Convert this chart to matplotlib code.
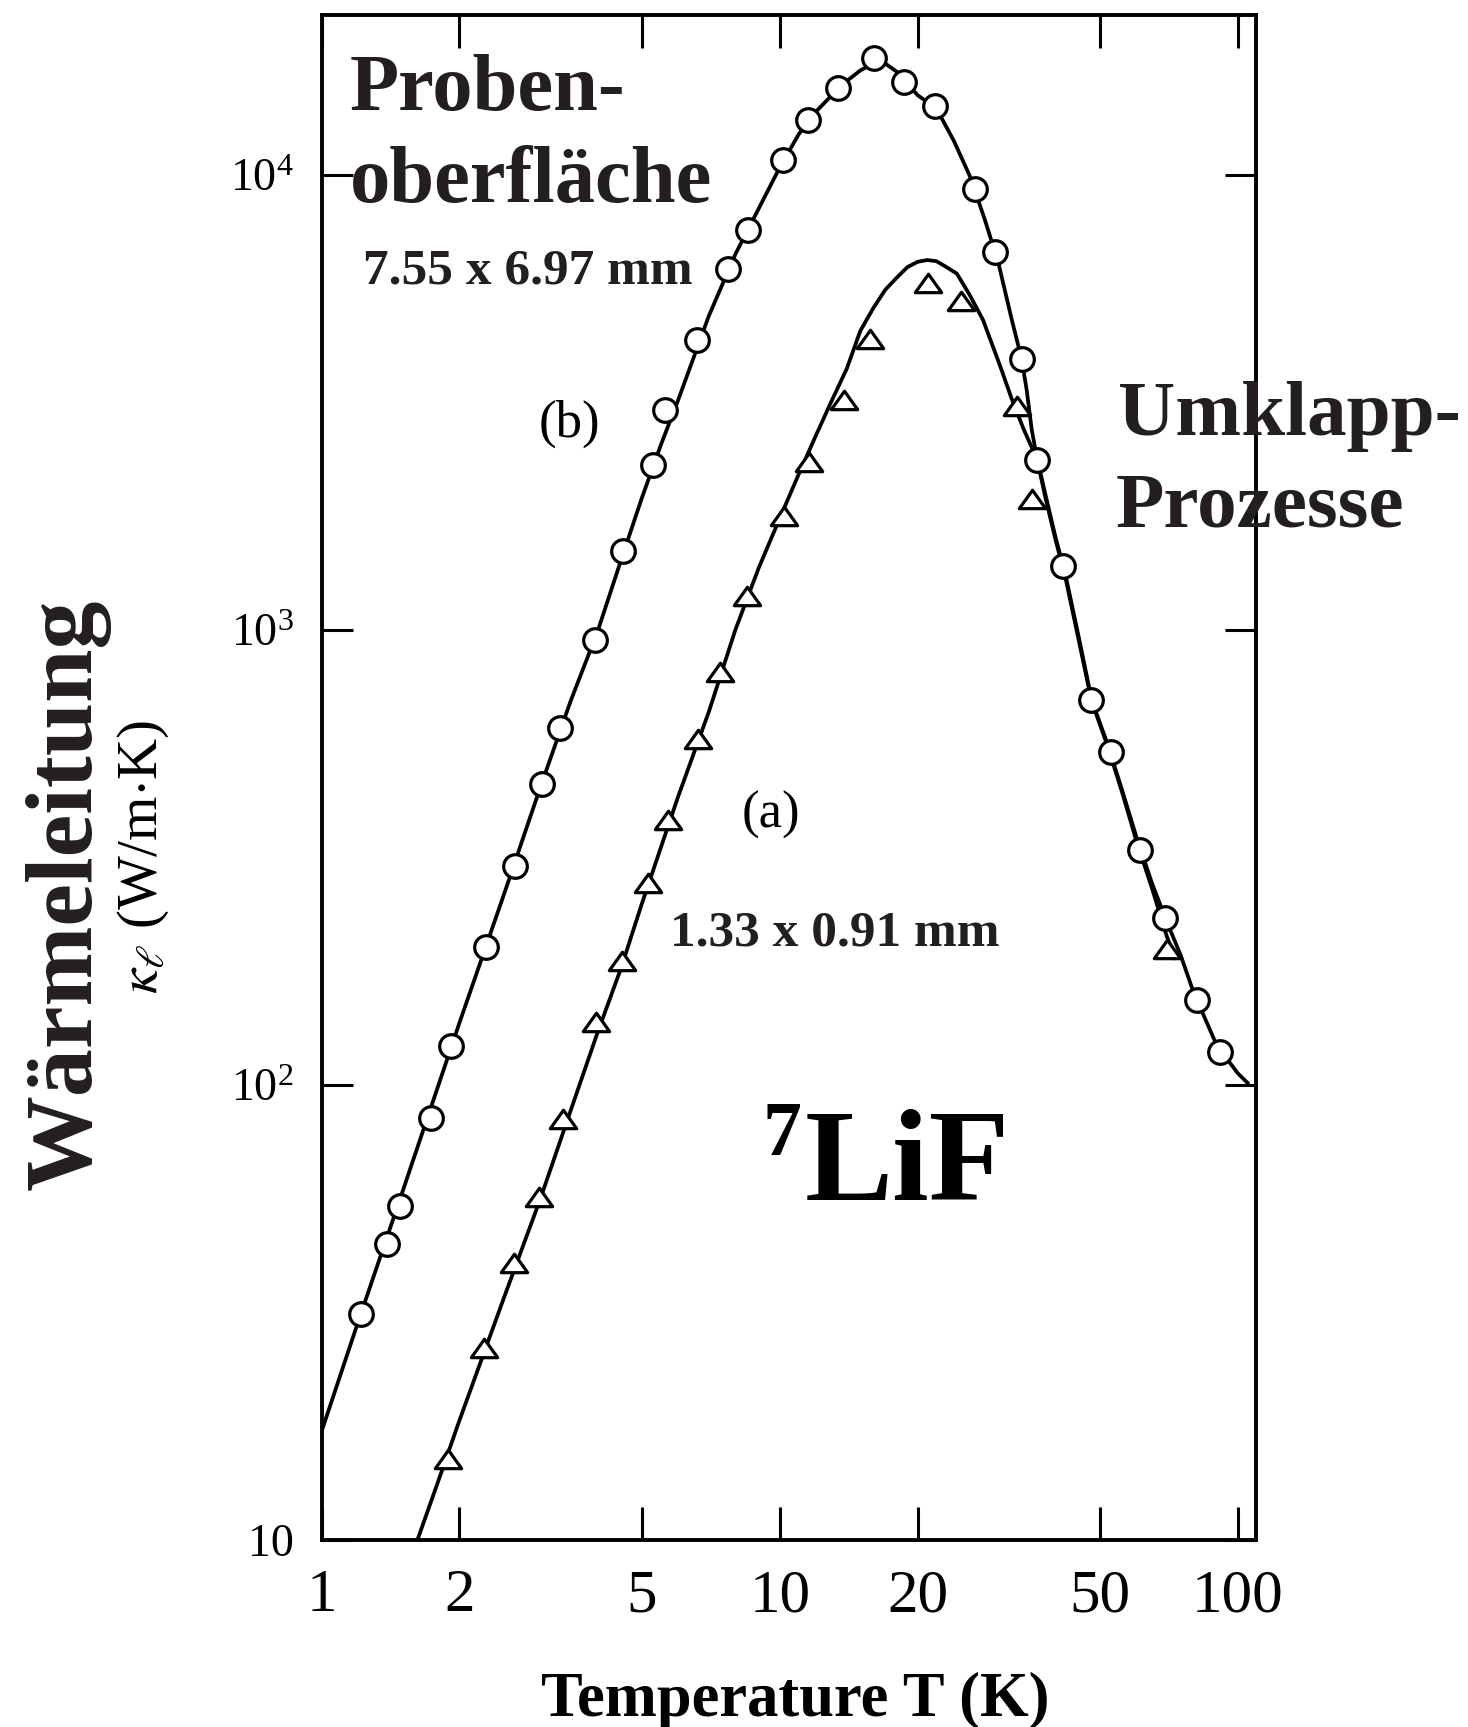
import matplotlib
matplotlib.use("Agg")
import matplotlib.pyplot as plt
from matplotlib.ticker import NullLocator
from matplotlib.path import Path

# ---------------- data ----------------
# sample (b): 7.55 x 6.97 mm, circles
circle_T = [1.22, 1.39, 1.48, 1.73, 1.92, 2.28, 2.65, 3.03, 3.31, 3.95, 4.56, 5.29,
            5.62, 6.60, 7.71, 8.52, 10.18, 11.54, 13.4, 16.06, 18.7, 21.8, 26.7,
            29.5, 33.75, 36.5, 41.6, 47.9, 52.9, 61.1, 69.3, 81.3, 91.4]
circle_K = [31.3, 44.6, 54.2, 84.5, 121.6, 201, 303, 458, 609, 951, 1493, 2307,
            3050, 4337, 6225, 7570, 10800, 13200, 15520, 18100, 16060, 14190, 9350,
            6790, 3936, 2366, 1384, 703, 538, 328, 233, 153.5, 118]

# sample (a): 1.33 x 0.91 mm, triangles
tri_T = [1.89, 2.26, 2.63, 2.98, 3.36, 3.97, 4.53, 5.15, 5.69, 6.64, 7.42, 8.47,
         10.2, 11.6, 13.8, 15.75, 21.1, 24.9, 32.9, 35.5, 70.0]
tri_K = [15.0, 26.2, 40.3, 56.3, 83.6, 137, 186, 277, 381, 573, 805, 1183,
         1775, 2333, 3190, 4340, 5780, 5270, 3097, 1932, 198]

# drawn curve through (b)
curve_b_T = [1.0, 1.2, 1.5, 2.0, 2.5, 3.0, 3.5, 4.0, 4.5, 5.0, 5.5, 6.0, 7.0, 8.0,
             9.0, 10.0, 11.0, 12.0, 13.0, 14.0, 15.0, 16.0, 17.0, 18.0, 19.0, 20.0,
             22.0, 24.0, 26.0, 28.0, 30.0, 32.0, 33.75, 34.6, 35.5, 36.5, 38.0, 40.0,
             42.0, 45.0, 48.0, 52.0, 56.0, 60.0, 65.0, 70.0, 75.0, 80.0, 90.0, 100.0, 105.0]
curve_b_K = [17.3, 30, 58, 137, 262, 450, 700, 990, 1420, 1950, 2550, 3200, 4900, 6700,
             8450, 10400, 12300, 13800, 15000, 16100, 17000, 17600, 17600, 16900, 15900, 15000,
             14000, 11900, 9960, 8020, 6430, 4880, 3936, 3373, 2754, 2366, 1990, 1600,
             1330, 960, 700, 560, 442, 352, 277, 228, 193, 160, 122, 106, 101]

# drawn curve through (a)
curve_a_T = [1.62, 1.8, 2.0, 2.5, 3.0, 3.5, 4.0, 4.5, 5.0, 6.0, 7.0, 8.0, 9.0, 10.0,
             11.0, 12.0, 13.0, 14.0, 15.0, 16.0, 17.0, 18.0, 19.0, 20.0, 21.0, 22.0,
             23.0, 24.35, 26.0, 27.8, 30.3, 32.0, 34.0, 36.5, 38.0, 40.0, 42.0, 45.0,
             48.0, 52.0, 56.0, 60.0, 65.0, 70.0, 73.0]
curve_a_K = [10, 13.5, 18.3, 34, 56, 88, 130, 180, 250, 430, 660, 1000, 1370, 1760,
             2200, 2680, 3200, 3750, 4550, 5100, 5600, 5950, 6280, 6450, 6510, 6470,
             6300, 6080, 5450, 4800, 3800, 3250, 2780, 2366, 1960, 1580, 1310, 945,
             695, 555, 437, 345, 270, 212, 190]

x_ticks = [1, 2, 5, 10, 20, 50, 100]
x_labels = ["1", "2", "5", "10", "20", "50", "100"]
y_ticks = [10, 100, 1000, 10000]
y_labels = ["10", r"$\mathregular{10^{2}}$", r"$\mathregular{10^{3}}$", r"$\mathregular{10^{4}}$"]

# ---------------- styling ----------------
plt.rcParams['font.family'] = ['Liberation Serif', 'DejaVu Serif']
plt.rcParams['mathtext.fontset'] = 'stix'

TXT = '#231f20'

fig = plt.figure(figsize=(14.68, 17.27), dpi=100)
ax = fig.add_axes([0.21907, 0.10851, 0.63618, 0.88256])
ax.set_xscale('log')
ax.set_yscale('log')
ax.set_xlim(1, 109.3)
ax.set_ylim(10, 22460)

ax.plot(curve_b_T, curve_b_K, color='black', lw=2.7, zorder=2)
ax.plot(curve_a_T, curve_a_K, color='black', lw=2.7, zorder=2)

ax.plot(circle_T, circle_K, linestyle='none', marker='o', markersize=17,
        markerfacecolor='white', markeredgecolor='black', markeredgewidth=2.3, zorder=3)

tri_path = Path([(-1.0, -0.62), (1.0, -0.62), (0.0, 0.78), (-1.0, -0.62)],
                [Path.MOVETO, Path.LINETO, Path.LINETO, Path.CLOSEPOLY])
ax.plot(tri_T, tri_K, linestyle='none', marker=tri_path, markersize=19,
        markerfacecolor='white', markeredgecolor='black', markeredgewidth=2.3, zorder=3)

ax.set_xticks(x_ticks, x_labels)
ax.set_yticks(y_ticks, y_labels)
ax.xaxis.set_minor_locator(NullLocator())
ax.yaxis.set_minor_locator(NullLocator())
ax.tick_params(axis='x', which='major', direction='in', top=True, bottom=True,
               length=24, width=2.2, pad=21, labelsize=44, colors='black')
ax.tick_params(axis='y', which='major', direction='in', left=True, right=True,
               length=22, width=2.2, pad=20, labelsize=33, colors='black')
for s in ax.spines.values():
    s.set_linewidth(2.8)
    s.set_color('black')

# ---------------- annotations ----------------
fig.text(0.2384, 0.9363, "Proben-", fontsize=58, fontweight='bold', color=TXT,
         ha='left', va='baseline')
fig.text(0.2384, 0.8833, "oberfläche", fontsize=58, fontweight='bold', color=TXT,
         ha='left', va='baseline')
fig.text(0.2473, 0.8356, "7.55 x 6.97 mm", fontsize=37, fontweight='bold', color=TXT,
         ha='left', va='baseline')
fig.text(0.3876, 0.7545, "(b)", fontsize=38, color='black', ha='center', va='center')
fig.text(0.5252, 0.5281, "(a)", fontsize=38, color='black', ha='center', va='center')
fig.text(0.4564, 0.4528, "1.33 x 0.91 mm", fontsize=37, fontweight='bold', color=TXT,
         ha='left', va='baseline')
fig.text(0.7616, 0.7481, "Umklapp-", fontsize=57, fontweight='bold', color=TXT,
         ha='left', va='baseline')
fig.text(0.7602, 0.6954, "Prozesse", fontsize=57, fontweight='bold', color=TXT,
         ha='left', va='baseline')
fig.text(0.5480, 0.3052, "LiF", fontsize=95, fontweight='bold', color='black',
         ha='left', va='baseline')
fig.text(0.5195, 0.3625, "7", fontsize=56, fontweight='bold', color='black',
         ha='left', va='top')
fig.text(0.5416, 0.0064, "Temperature T (K)", fontsize=45, fontweight='bold', color='black',
         ha='center', va='baseline')
fig.text(0.0463, 0.4823, "Wärmeleitung", fontsize=69, fontweight='bold', color=TXT,
         ha='center', va='center', rotation=90)
fig.text(0.0974, 0.504, r"$\kappa_{\ell}$ (W/m$\cdot$K)", fontsize=41, color='black',
         ha='center', va='center', rotation=90, math_fontfamily='stix')

fig.savefig("out.png", dpi=100)
